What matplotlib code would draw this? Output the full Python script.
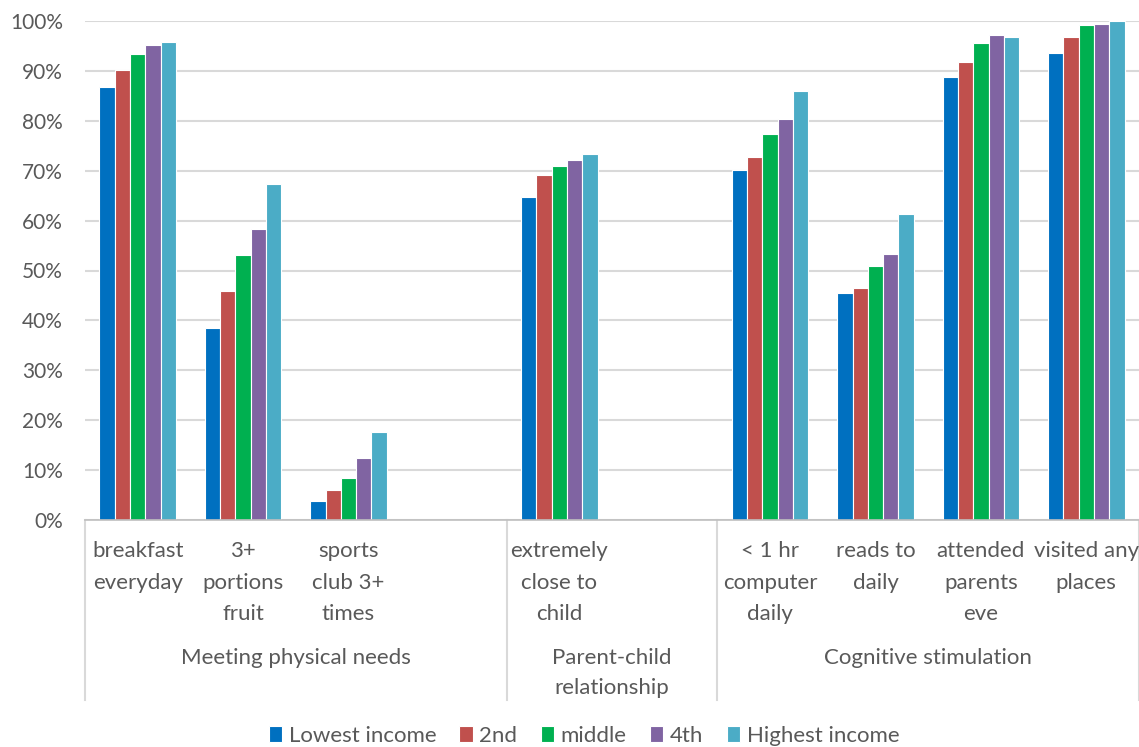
import numpy as np
import matplotlib
matplotlib.use('Agg')
import matplotlib.pyplot as plt
from matplotlib.lines import Line2D
from matplotlib.ticker import PercentFormatter

plt.rcParams['font.family'] = ['Lato', 'DejaVu Sans']

# categories (empty strings are spacer slots between groups)
categories = ['breakfast\neveryday', '3+\nportions\nfruit', 'sports\nclub 3+\ntimes', '',
              'extremely\nclose to\nchild', '',
              '< 1 hr\ncomputer\ndaily', 'reads to\ndaily', 'attended\nparents\neve', 'visited any\nplaces']
groups = ['Meeting physical needs', 'Parent-child\nrelationship', 'Cognitive stimulation']
group_spans = [(-0.5, 3.5), (3.5, 5.5), (5.5, 9.5)]

series = ['Lowest income', '2nd', 'middle', '4th', 'Highest income']
lowest = [86.8, 38.4, 3.8, np.nan, 64.7, np.nan, 70.1, 45.4, 88.8, 93.5]
second = [90.1, 45.9, 6.1, np.nan, 69.1, np.nan, 72.7, 46.4, 91.7, 96.8]
middle = [93.3, 53.1, 8.4, np.nan, 70.9, np.nan, 77.3, 51.0, 95.5, 99.1]
fourth = [95.1, 58.3, 12.5, np.nan, 72.1, np.nan, 80.4, 53.4, 97.1, 99.4]
highest = [95.8, 67.3, 17.6, np.nan, 73.4, np.nan, 86.0, 61.3, 96.8, 99.9]
colors = ['#0070C0', '#C0504D', '#00B050', '#8064A2', '#4BACC6']

fig = plt.figure(figsize=(11.39, 7.47), dpi=100)
ax = fig.add_axes([85 / 1139, 1 - 520 / 747, 1 - 85 / 1139, 499 / 747])

x = np.arange(len(categories))
w = 0.145
for i, (vals, c, name) in enumerate(zip([lowest, second, middle, fourth, highest], colors, series)):
    v = np.array(vals) / 100
    ax.bar(x + (i - 2) * w, np.nan_to_num(v), w, color=c, edgecolor='white', linewidth=0.8, label=name)

ax.set_xlim(-0.5, 9.5)
ax.set_ylim(0, 1)
ax.set_yticks(np.arange(0, 1.01, 0.1))
ax.yaxis.set_major_formatter(PercentFormatter(1.0, decimals=0))
ax.grid(axis='y', color='#d9d9d9', linewidth=1.5)
ax.set_axisbelow(True)
for s in ['top', 'right', 'left']:
    ax.spines[s].set_visible(False)
ax.spines['bottom'].set_color('#bfbfbf')
ax.spines['bottom'].set_linewidth(1.2)
ax.tick_params(axis='y', length=0, pad=16, labelsize=15, labelcolor='#595959')
ax.set_xticks([])

trans = ax.get_xaxis_transform()
to_ax = lambda ypx: (520 - ypx) / 499

for xi, lab in zip(x, categories):
    ax.text(xi, to_ax(541), lab, transform=trans, ha='center', va='top',
            fontsize=16, color='#595959', linespacing=1.72)

for (a, b), g in zip(group_spans, groups):
    ax.text((a + b) / 2, to_ax(648), g, transform=trans, ha='center', va='top',
            fontsize=16, color='#595959', linespacing=1.6)

for xb in [-0.5, 3.5, 5.5, 9.5]:
    ax.add_line(Line2D([xb, xb], [0, to_ax(700)], transform=trans, color='#d9d9d9',
                       linewidth=1.5, clip_on=False))

fig.legend(loc='center', bbox_to_anchor=(584 / 1139, 11 / 747), ncol=5, frameon=False,
           fontsize=16, handlelength=0.6, handleheight=0.7, handletextpad=0.3,
           columnspacing=1.05, labelcolor='#595959')

fig.savefig('out.png', dpi=100)
